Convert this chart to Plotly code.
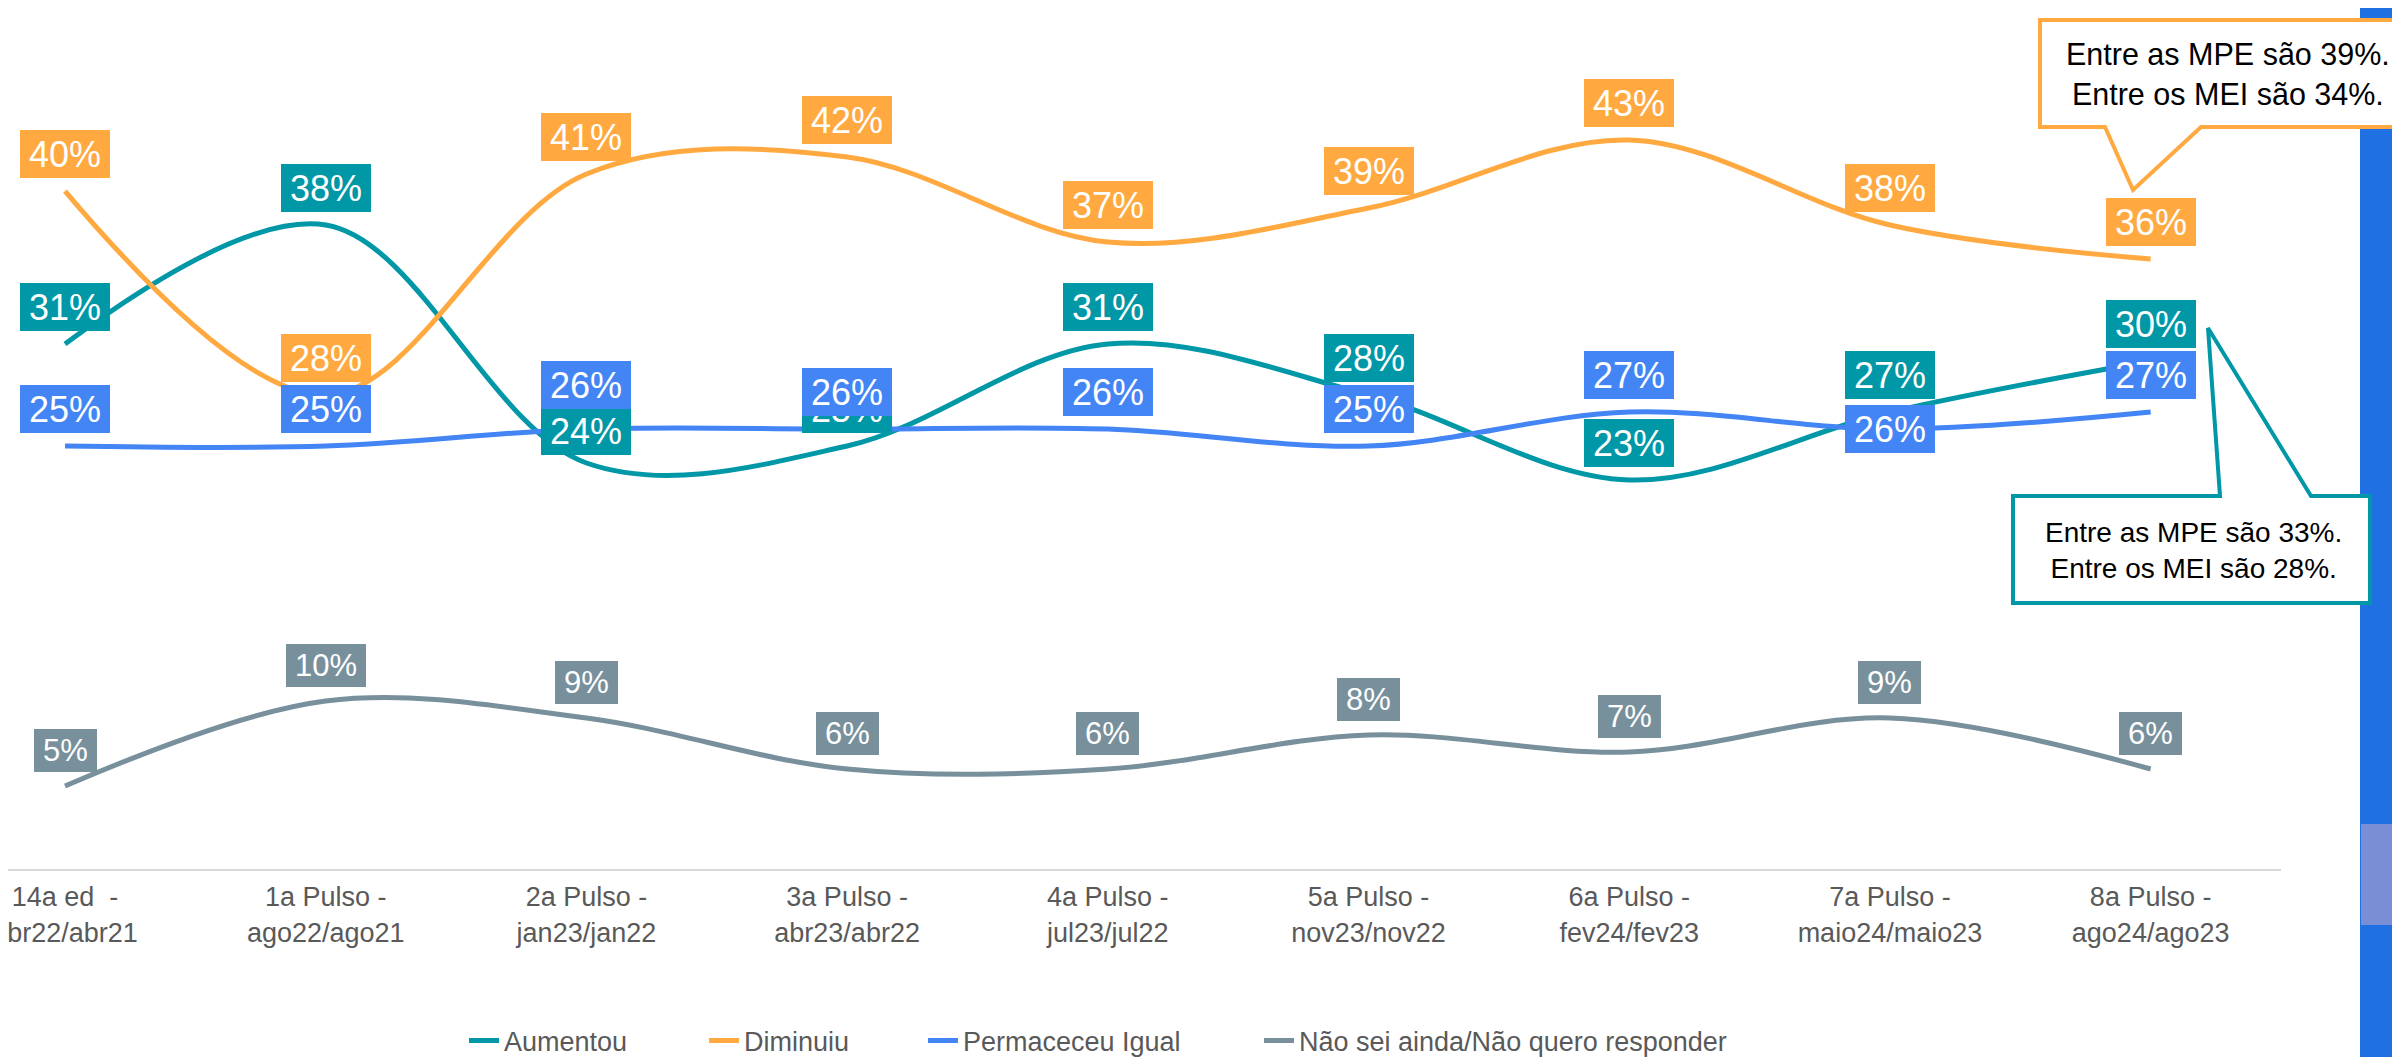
import plotly.graph_objects as go

# ---------------- data ----------------
categories = [
    "14a ed  -<br>abr22/abr21",
    "1a Pulso -<br>ago22/ago21",
    "2a Pulso -<br>jan23/jan22",
    "3a Pulso -<br>abr23/abr22",
    "4a Pulso -<br>jul23/jul22",
    "5a Pulso -<br>nov23/nov22",
    "6a Pulso -<br>fev24/fev23",
    "7a Pulso -<br>maio24/maio23",
    "8a Pulso -<br>ago24/ago23",
]
series_names = ["Aumentou", "Diminuiu", "Permaceceu Igual", "Não sei ainda/Não quero responder"]
aumentou = [31, 38, 24, 25, 31, 28, 23, 27, 30]
diminuiu = [40, 28, 41, 42, 37, 39, 43, 38, 36]
permaneceu = [25, 25, 26, 26, 26, 25, 27, 26, 27]
nao_sei = [5, 10, 9, 6, 6, 8, 7, 9, 6]

callout_diminuiu = "Entre as MPE são 39%.<br>Entre os MEI são 34%."
callout_aumentou = "Entre as MPE são 33%.<br>Entre os MEI são 28%."

# ---------------- style ----------------
FONT = "Liberation Sans, Arial, sans-serif"
colors = ["#0097A7", "#FFA940", "#4385F4", "#78909C"]
values = [aumentou, diminuiu, permaneceu, nao_sei]
# vertical offset (px) of each data label from its point
label_shift = [
    [37, 37, 32, 37, 37, 37, 37, 37, 37],
    [37] * 9,
    [37, 37, 44, 37, 37, 37, 37, 0, 37],
    [36] * 9,
]
# legend text start positions (px) for each series
legend_text_x = [505, 745, 964, 1300]

W, H = 2400, 1057
ML, MR, MT, MB = 0, 127, 0, 196
PW, PH = W - ML - MR, H - MT - MB


def px(x):
    return (x - ML) / PW


def py(y):
    return 1 - (y - MT) / PH


legend_keys = ["legend", "legend2", "legend3", "legend4"]

fig = go.Figure()
for name, vals, col, lk in zip(series_names, values, colors, legend_keys):
    fig.add_trace(go.Scatter(
        x=categories, y=vals, name=name, mode="lines", legend=lk,
        line=dict(color=col, width=5, shape="spline", smoothing=1.0),
        hoverinfo="skip",
    ))

annotations = []
for idx, (vals, col, shifts) in enumerate(zip(values, colors, label_shift)):
    small = idx == 3
    fs = 31 if small else 36
    for c, v, s in zip(categories, vals, shifts):
        txt = f"{v}%"
        if small:
            w = (0.556 * (len(txt) - 1) + 0.889) * fs + 18
            h = 43
        else:
            w, h = 90, 48
        annotations.append(dict(
            x=c, y=v, xref="x", yref="y", text=txt, showarrow=False,
            xanchor="center", yanchor="middle", yshift=s,
            bgcolor=col, borderwidth=0, borderpad=0, width=w, height=h,
            font=dict(family=FONT, size=fs, color="white"),
        ))

# callout texts
annotations.append(dict(
    x=px(2220), y=py(66), xref="paper", yref="paper", text=callout_diminuiu,
    showarrow=False, xanchor="center", yanchor="middle", align="center",
    font=dict(family=FONT, size=30.5, color="black"),
))
annotations.append(dict(
    x=px(2185), y=py(542), xref="paper", yref="paper", text=callout_aumentou,
    showarrow=False, xanchor="center", yanchor="middle", align="center",
    font=dict(family=FONT, size=28, color="black"),
))


def path(pts):
    return "M" + " L".join(f"{px(a):.5f},{py(b):.5f}" for a, b in pts) + " Z"


shapes = [
    # blue side bar
    dict(type="rect", xref="paper", yref="paper", x0=px(2352), x1=px(2400), y0=py(H), y1=py(0),
         fillcolor="#1F70E2", line=dict(width=0), layer="above"),
    dict(type="rect", xref="paper", yref="paper", x0=px(2353), x1=px(2400), y0=py(917), y1=py(816),
         fillcolor="#7A8ED6", line=dict(width=0), layer="above"),
    # orange callout
    dict(type="path", xref="paper", yref="paper",
         path=path([(2032, 12), (2420, 12), (2420, 119), (2193, 119), (2125, 182), (2097, 119), (2032, 119)]),
         fillcolor="white", line=dict(color=colors[1], width=4), layer="above"),
    # teal callout
    dict(type="path", xref="paper", yref="paper",
         path=path([(2005, 488), (2212, 488), (2200, 320), (2303, 488), (2362, 488), (2362, 595), (2005, 595)]),
         fillcolor="white", line=dict(color=colors[0], width=4), layer="above"),
]

legend_layouts = {}
for lk, tx in zip(legend_keys, legend_text_x):
    legend_layouts[lk] = dict(
        orientation="h", x=px(tx - 49), y=py(1033), xanchor="left", yanchor="middle",
        font=dict(family=FONT, size=27, color="#595959"), bgcolor="rgba(0,0,0,0)",
    )

fig.update_layout(
    width=W, height=H,
    margin=dict(l=ML, r=MR, t=MT, b=MB, autoexpand=False),
    paper_bgcolor="white", plot_bgcolor="white",
    font=dict(family=FONT, color="#595959"),
    showlegend=True,
    xaxis=dict(type="category", range=[-57 / (PW / 8.7186), 8.5], showgrid=False, zeroline=False,
               showline=True, linecolor="#D9D9D9", linewidth=2, ticks="", ticklabelstandoff=3,
               tickfont=dict(family=FONT, size=27, color="#595959"), automargin=False),
    yaxis=dict(range=[0.118, 50.765], visible=False, showgrid=False, zeroline=False, fixedrange=True),
    annotations=annotations,
    shapes=shapes,
    **legend_layouts,
)

fig.write_html("out.html")
